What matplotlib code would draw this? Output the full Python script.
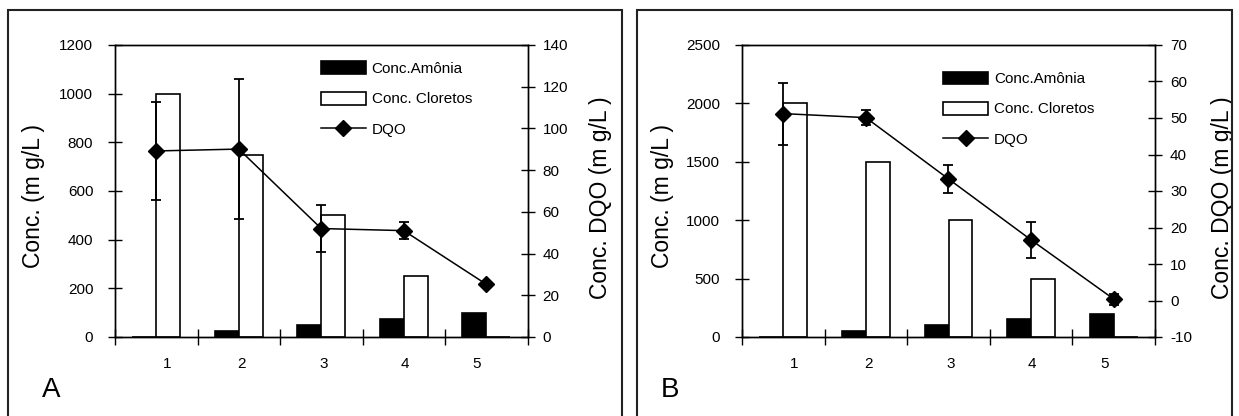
import numpy as np
import matplotlib.pyplot as plt
from matplotlib.patches import Rectangle

plt.rcParams['font.family'] = ['Liberation Sans', 'DejaVu Sans']
plt.rcParams['axes.linewidth'] = 1.0
plt.rcParams['axes.unicode_minus'] = False

fases = [1, 2, 3, 4, 5]
rotulos = ['1', '2', '3', '4', '5']
pos_rotulos = [1.13, 2.03, 3.03, 4.01, 4.885]

# painel A
amonia_a = [0, 25, 50, 75, 100]
cloretos_a = [1000, 750, 500, 250, 0]
dqo_a = [89.2, 90.1, 52, 51, 25.3]
erro_a = [23.5, 33.4, 11.3, 4, 0.6]

# painel B
amonia_b = [0, 50, 100, 150, 200]
cloretos_b = [2000, 1500, 1000, 500, 0]
dqo_b = [51.2, 50.1, 33.3, 16.6, 0.4]
erro_b = [8.5, 2.1, 3.9, 5.0, 1.5]

W, H = 1239, 416
fig = plt.figure(figsize=(W / 100, H / 100), dpi=100)


def painel(left, right, amonia, cloretos, dqo, erro, ylim, yt, ylim2, yt2,
           leg_xy, lab_x, frame_x, letra, letra_x):
    ax = fig.add_axes([left / W, 79 / H, (right - left) / W, 292 / H])
    ax.bar(fases, amonia, width=-0.29, align='edge', color='black',
           edgecolor='black', lw=1.2, label='Conc.Amônia')
    ax.bar(fases, cloretos, width=0.29, align='edge', color='white',
           edgecolor='black', lw=1.2, label='Conc. Cloretos')
    ax.set_xlim(0.5, 5.5)
    ax.set_ylim(*ylim)
    ax.set_yticks(yt)
    ax.set_xticks(np.arange(0.5, 6, 1))
    ax.set_xticklabels([])
    ax.set_xticks(pos_rotulos, labels=rotulos, minor=True)
    ax.tick_params(axis='x', which='major', direction='inout', length=11, width=1)
    ax.tick_params(axis='x', which='minor', length=0, pad=14.4, labelsize=11)
    ax.tick_params(axis='y', direction='inout', length=10, width=1, pad=10.6,
                   labelsize=11)

    ax2 = ax.twinx()
    ax2.errorbar(fases, dqo, yerr=erro, fmt='none', ecolor='black',
                 elinewidth=1.3, capsize=3.6, capthick=1.3)
    ax2.plot(fases, dqo, '-D', color='black', lw=1.1, ms=8, label='DQO')
    ax2.set_ylim(*ylim2)
    ax2.set_yticks(yt2)
    ax2.tick_params(axis='y', direction='inout', length=10, width=1, pad=5.8,
                    labelsize=11)

    ax.set_ylabel('Conc. (m g/L )', fontsize=16.5, va='center')
    ax.yaxis.set_label_coords(lab_x[0] / W, 1 - 196 / H, transform=fig.transFigure)
    ax2.set_ylabel('Conc. DQO (m g/L )', fontsize=16.5, va='center')
    ax2.yaxis.set_label_coords(lab_x[1] / W, 1 - 197.5 / H, transform=fig.transFigure)

    h1, l1 = ax.get_legend_handles_labels()
    h2, l2 = ax2.get_legend_handles_labels()
    ax2.legend(h1 + h2, l1 + l2, loc='upper left',
               bbox_to_anchor=(leg_xy[0] / W, 1 - leg_xy[1] / H),
               bbox_transform=fig.transFigure, frameon=False, fontsize=11,
               borderpad=0, borderaxespad=0, handlelength=2.95,
               handleheight=0.92, handletextpad=0.38, labelspacing=1.02)

    fig.add_artist(Rectangle((frame_x[0] / W, -0.02), (frame_x[1] - frame_x[0]) / W,
                             1.02 - 10 / H, transform=fig.transFigure,
                             fill=False, lw=1.5, ec='#222222'))
    fig.text(letra_x / W, 1 - 390 / H, letra, fontsize=20, ha='left', va='center')


painel(115, 527.5, amonia_a, cloretos_a, dqo_a, erro_a, (0, 1200),
       range(0, 1201, 200), (0, 140), range(0, 141, 20),
       (320.7, 61.5), (33.6, 600.5), (8.3, 622), 'A', 42)
painel(742, 1155, amonia_b, cloretos_b, dqo_b, erro_b, (0, 2500),
       range(0, 2501, 500), (-10, 70), range(-10, 71, 10),
       (943, 71.5), (662.5, 1222), (636.7, 1232), 'B', 661)

fig.savefig('out.png', dpi=100)
